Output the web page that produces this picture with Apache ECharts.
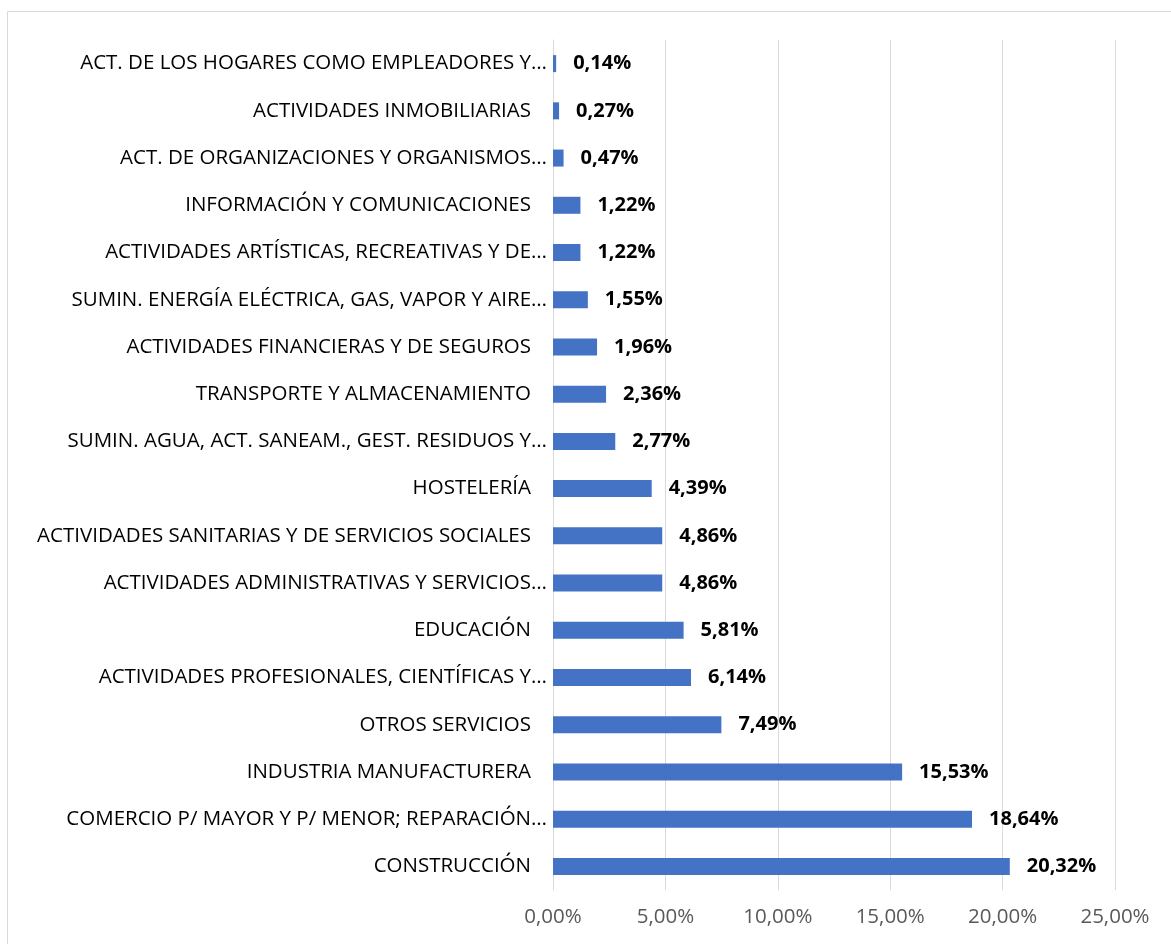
<!DOCTYPE html>
<html><head><meta charset="utf-8">
<script src="https://cdn.jsdelivr.net/npm/echarts@6/dist/echarts.min.js"></script>
<style>html,body{margin:0;padding:0;background:#fff}#c{width:1171px;height:944px}</style>
</head><body><div id="c"></div>
<script>
const categories = [
  "ACT. DE LOS HOGARES COMO EMPLEADORES Y…",
  "ACTIVIDADES INMOBILIARIAS",
  "ACT. DE ORGANIZACIONES Y ORGANISMOS…",
  "INFORMACIÓN Y COMUNICACIONES",
  "ACTIVIDADES ARTÍSTICAS, RECREATIVAS Y DE…",
  "SUMIN. ENERGÍA ELÉCTRICA, GAS, VAPOR Y AIRE…",
  "ACTIVIDADES FINANCIERAS Y DE SEGUROS",
  "TRANSPORTE Y ALMACENAMIENTO",
  "SUMIN. AGUA, ACT. SANEAM., GEST. RESIDUOS Y…",
  "HOSTELERÍA",
  "ACTIVIDADES SANITARIAS Y DE SERVICIOS SOCIALES",
  "ACTIVIDADES ADMINISTRATIVAS Y SERVICIOS…",
  "EDUCACIÓN",
  "ACTIVIDADES PROFESIONALES, CIENTÍFICAS Y…",
  "OTROS SERVICIOS",
  "INDUSTRIA MANUFACTURERA",
  "COMERCIO P/ MAYOR Y P/ MENOR; REPARACIÓN…",
  "CONSTRUCCIÓN"
];
const values = [0.14, 0.27, 0.47, 1.22, 1.22, 1.55, 1.96, 2.36, 2.77, 4.39, 4.86, 4.86, 5.81, 6.14, 7.49, 15.53, 18.64, 20.32];
const xMin = 0, xMax = 25, xStep = 5;

const fmt = v => v.toFixed(2).replace('.', ',') + '%';
const FONT = 'Open Sans';
const chart = echarts.init(document.getElementById('c'));
chart.setOption({
  animation: false,
  graphic: [{
    type: 'rect', silent: true,
    shape: { x: 7.5, y: 11.5, width: 1300, height: 1100 },
    style: { fill: 'none', stroke: '#d9d9d9', lineWidth: 1 }
  }],
  grid: { left: 553, right: 56, top: 40, bottom: 54, containLabel: false },
  xAxis: {
    type: 'value', min: xMin, max: xMax, interval: xStep,
    axisLine: { show: false }, axisTick: { show: false },
    splitLine: { lineStyle: { color: '#d9d9d9', width: 1 } },
    axisLabel: { formatter: v => fmt(v), color: '#595959', fontFamily: FONT, fontSize: 20.5, margin: 17 }
  },
  yAxis: {
    type: 'category', data: categories, inverse: true,
    axisLine: { lineStyle: { color: '#d9d9d9' } }, axisTick: { show: false },
    axisLabel: {
      color: '#000', fontFamily: FONT, fontSize: 20.5, margin: 6,
      formatter: s => s.endsWith('…') ? s : '{p|' + s + '}',
      rich: { p: { padding: [0, 16, 0, 0], color: '#000', fontFamily: FONT, fontSize: 20.5 } }
    }
  },
  series: [{
    type: 'bar', data: values, barWidth: 17,
    itemStyle: { color: '#4472C4' },
    label: {
      show: true, position: 'right', distance: 17,
      formatter: p => fmt(p.value),
      color: '#000', fontWeight: 'bold', fontFamily: FONT, fontSize: 20
    }
  }]
});
</script></body></html>
